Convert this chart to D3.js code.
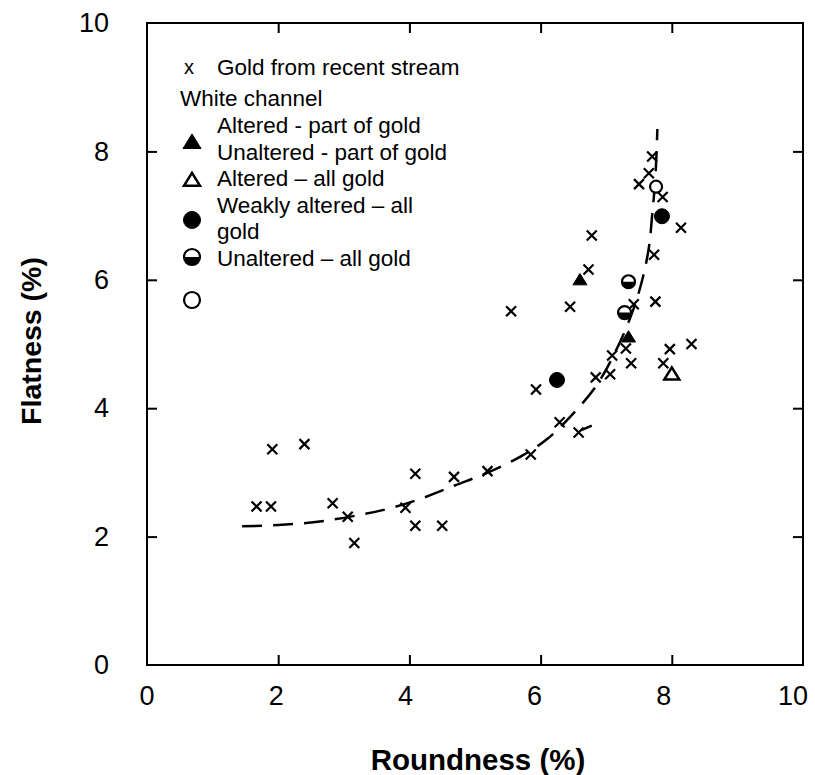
<!DOCTYPE html>
<html>
<head>
<meta charset="utf-8">
<script src="https://cdn.jsdelivr.net/npm/d3@7"></script>
<style>
  body { margin: 0; background: #fff; overflow: hidden; }
  text { font-family: Arial, "Liberation Sans", sans-serif; fill: #000; }
</style>
</head>
<body>
<script>
// Gold from recent stream (crosses)
var streamX = [7.70, 7.65, 7.50, 7.86, 8.14, 6.78, 7.73, 6.73, 5.55, 6.45, 7.75, 7.42,
               7.30, 7.09, 7.38, 7.97, 8.30, 7.87, 6.84, 7.06, 5.93, 6.29, 6.58, 5.85,
               5.19, 1.67, 1.89, 1.91, 2.40, 2.83, 3.06, 3.16, 3.94, 4.09, 4.09, 4.50, 4.68];
var streamY = [7.92, 7.66, 7.49, 7.29, 6.81, 6.69, 6.39, 6.16, 5.51, 5.58, 5.66, 5.62,
               4.93, 4.82, 4.70, 4.92, 5.00, 4.70, 4.48, 4.53, 4.29, 3.78, 3.62, 3.28,
               3.02, 2.47, 2.47, 3.36, 3.44, 2.52, 2.31, 1.90, 2.45, 2.98, 2.17, 2.17, 2.93];

// White channel
var filledTriX = [6.60, 7.34], filledTriY = [6.00, 5.11];
var openTriX = [8.00],         openTriY = [4.53];
var filledCircX = [6.25, 7.85], filledCircY = [4.44, 6.99];
var halfCircX = [7.34, 7.28],   halfCircY = [5.97, 5.49];
var openCircX = [7.76],         openCircY = [7.45];

// dashed trend curve
var curveX = [1.45, 2.0, 2.6, 3.2, 3.7, 4.2, 4.7, 5.2, 5.7, 6.1, 6.5, 6.85, 7.15, 7.4, 7.55, 7.65, 7.7, 7.75, 7.78];
var curveY = [2.16, 2.18, 2.23, 2.33, 2.44, 2.6, 2.8, 3.0, 3.25, 3.52, 3.92, 4.35, 4.9, 5.5, 6.0, 6.5, 7.0, 7.6, 8.35];
var tailX = [6.62, 6.78], tailY = [3.66, 3.73];

var ticks = [0, 2, 4, 6, 8, 10];
var innerTicks = [2, 4, 6, 8];

var legendLabels = ["Altered - part of gold", "Unaltered - part of gold", "Altered \u2013 all gold",
                    "Weakly altered \u2013 all", "gold", "Unaltered \u2013 all gold"];

var w = 815, h = 775;
var svg = d3.select("body").append("svg").attr("width", w).attr("height", h);

var x = d3.scaleLinear().domain([0, 10]).range([147, 803]);
var y = d3.scaleLinear().domain([0, 10]).range([665, 23]);
// tick labels in the source drift slightly left of their ticks
var xLab = d3.scaleLinear().domain([0, 10]).range([147, 793]);

function zip(a, b) { return a.map(function (v, i) { return [v, b[i]]; }); }

// frame
svg.append("rect")
    .attr("x", x(0)).attr("y", y(10))
    .attr("width", x(10) - x(0)).attr("height", y(0) - y(10))
    .attr("fill", "none").attr("stroke", "#000").attr("stroke-width", 2);

// axes (inward ticks on all four sides)
var gx = svg.append("g").attr("transform", "translate(0," + y(0) + ")")
    .call(d3.axisBottom(x).tickValues(innerTicks).tickSize(-10).tickFormat(""));
var gy = svg.append("g").attr("transform", "translate(" + x(0) + ",0)")
    .call(d3.axisLeft(y).tickValues(ticks).tickSize(-10).tickPadding(38).tickFormat(d3.format("d")));
var gt = svg.append("g").attr("transform", "translate(0," + y(10) + ")")
    .call(d3.axisTop(x).tickValues(innerTicks).tickSize(-10).tickFormat(""));
var gr = svg.append("g").attr("transform", "translate(" + x(10) + ",0)")
    .call(d3.axisRight(y).tickValues(innerTicks).tickSize(-10).tickFormat(""));

[gx, gy, gt, gr].forEach(function (g) {
    g.select(".domain").remove();
    g.selectAll(".tick line").attr("stroke", "#000").attr("stroke-width", 2);
    g.selectAll(".tick text").attr("font-size", 27).attr("font-family", "Arial, 'Liberation Sans', sans-serif");
});
gy.selectAll(".tick line").filter(function (d) { return d === 0 || d === 10; }).remove();

// x tick labels through the label scale
svg.append("g").selectAll("text")
    .data(ticks)
    .enter().append("text")
    .attr("x", function (d) { return xLab(d); })
    .attr("y", 705)
    .attr("text-anchor", "middle")
    .attr("font-size", 27)
    .text(function (d) { return d; });

// axis titles
svg.append("text")
    .attr("x", 478).attr("y", 770)
    .attr("text-anchor", "middle")
    .attr("font-size", 29.5).attr("font-weight", "bold")
    .text("Roundness (%)");
svg.append("text")
    .attr("transform", "translate(41,341) rotate(-90)")
    .attr("text-anchor", "middle")
    .attr("font-size", 28.5).attr("font-weight", "bold")
    .text("Flatness (%)");

// dashed curve
var line = d3.line()
    .x(function (d) { return x(d[0]); })
    .y(function (d) { return y(d[1]); })
    .curve(d3.curveCatmullRom);

svg.append("path")
    .datum(zip(curveX, curveY))
    .attr("d", line)
    .attr("fill", "none").attr("stroke", "#000")
    .attr("stroke-width", 2.5).attr("stroke-dasharray", "20,11");
svg.append("path")
    .datum(zip(tailX, tailY))
    .attr("d", d3.line().x(function (d) { return x(d[0]); }).y(function (d) { return y(d[1]); }))
    .attr("fill", "none").attr("stroke", "#000").attr("stroke-width", 2.5);

// symbol helpers
function cross(g, s) {
    g.append("path")
        .attr("d", "M" + (-s) + "," + (-s) + "L" + s + "," + s + "M" + (-s) + "," + s + "L" + s + "," + (-s))
        .attr("stroke", "#000").attr("stroke-width", 2.2).attr("fill", "none");
}
function tri(g, s, filled) {
    var hh = s * 0.9;
    g.append("path")
        .attr("d", "M0," + (-hh) + "L" + s + "," + hh * 0.8 + "L" + (-s) + "," + hh * 0.8 + "Z")
        .attr("fill", filled ? "#000" : "#fff")
        .attr("stroke", "#000").attr("stroke-width", filled ? 1 : 2.5)
        .attr("stroke-linejoin", "miter");
}
function circ(g, r, filled) {
    g.append("circle").attr("r", r)
        .attr("fill", filled ? "#000" : "#fff")
        .attr("stroke", "#000").attr("stroke-width", filled ? 1 : 2.2);
}
function half(g, r) {
    g.append("circle").attr("r", r).attr("fill", "#fff").attr("stroke", "#000").attr("stroke-width", 2.2);
    g.append("path")
        .attr("d", "M" + (-r) + ",0A" + r + "," + r + " 0 0 0 " + r + ",0Z")
        .attr("fill", "#000");
}

function plot(xs, ys, draw) {
    svg.append("g").selectAll("g")
        .data(zip(xs, ys))
        .enter().append("g")
        .attr("transform", function (d) { return "translate(" + x(d[0]) + "," + y(d[1]) + ")"; })
        .each(function () { draw(d3.select(this)); });
}

plot(streamX, streamY, function (g) { cross(g, 5); });
plot(openCircX, openCircY, function (g) { circ(g, 6, false); });
plot(halfCircX, halfCircY, function (g) { half(g, 6.5); });
plot(filledCircX, filledCircY, function (g) { circ(g, 7.5, true); });
plot(filledTriX, filledTriY, function (g) { tri(g, 7, true); });
plot(openTriX, openTriY, function (g) { tri(g, 7.5, false); });

// legend
var lg = svg.append("g").attr("font-size", 22.5);
lg.append("text").attr("x", 184).attr("y", 74).attr("font-size", 20).text("x");
lg.append("text").attr("x", 217).attr("y", 75).text("Gold from recent stream");
lg.append("text").attr("x", 180).attr("y", 106).text("White channel");
lg.selectAll(".lab")
    .data(legendLabels)
    .enter().append("text")
    .attr("class", "lab")
    .attr("x", 217)
    .attr("y", function (d, i) { return 133 + i * 26.5; })
    .text(function (d) { return d; });

var sym = [
    [142, function (g) { tri(g, 9, true); }],
    [180, function (g) { tri(g, 8, false); }],
    [220, function (g) { circ(g, 8.5, true); }],
    [257, function (g) { half(g, 8); }],
    [300, function (g) { circ(g, 8, false); }]
];
sym.forEach(function (s) {
    var g = lg.append("g").attr("transform", "translate(192," + s[0] + ")");
    s[1](g);
});
</script>
</body>
</html>
